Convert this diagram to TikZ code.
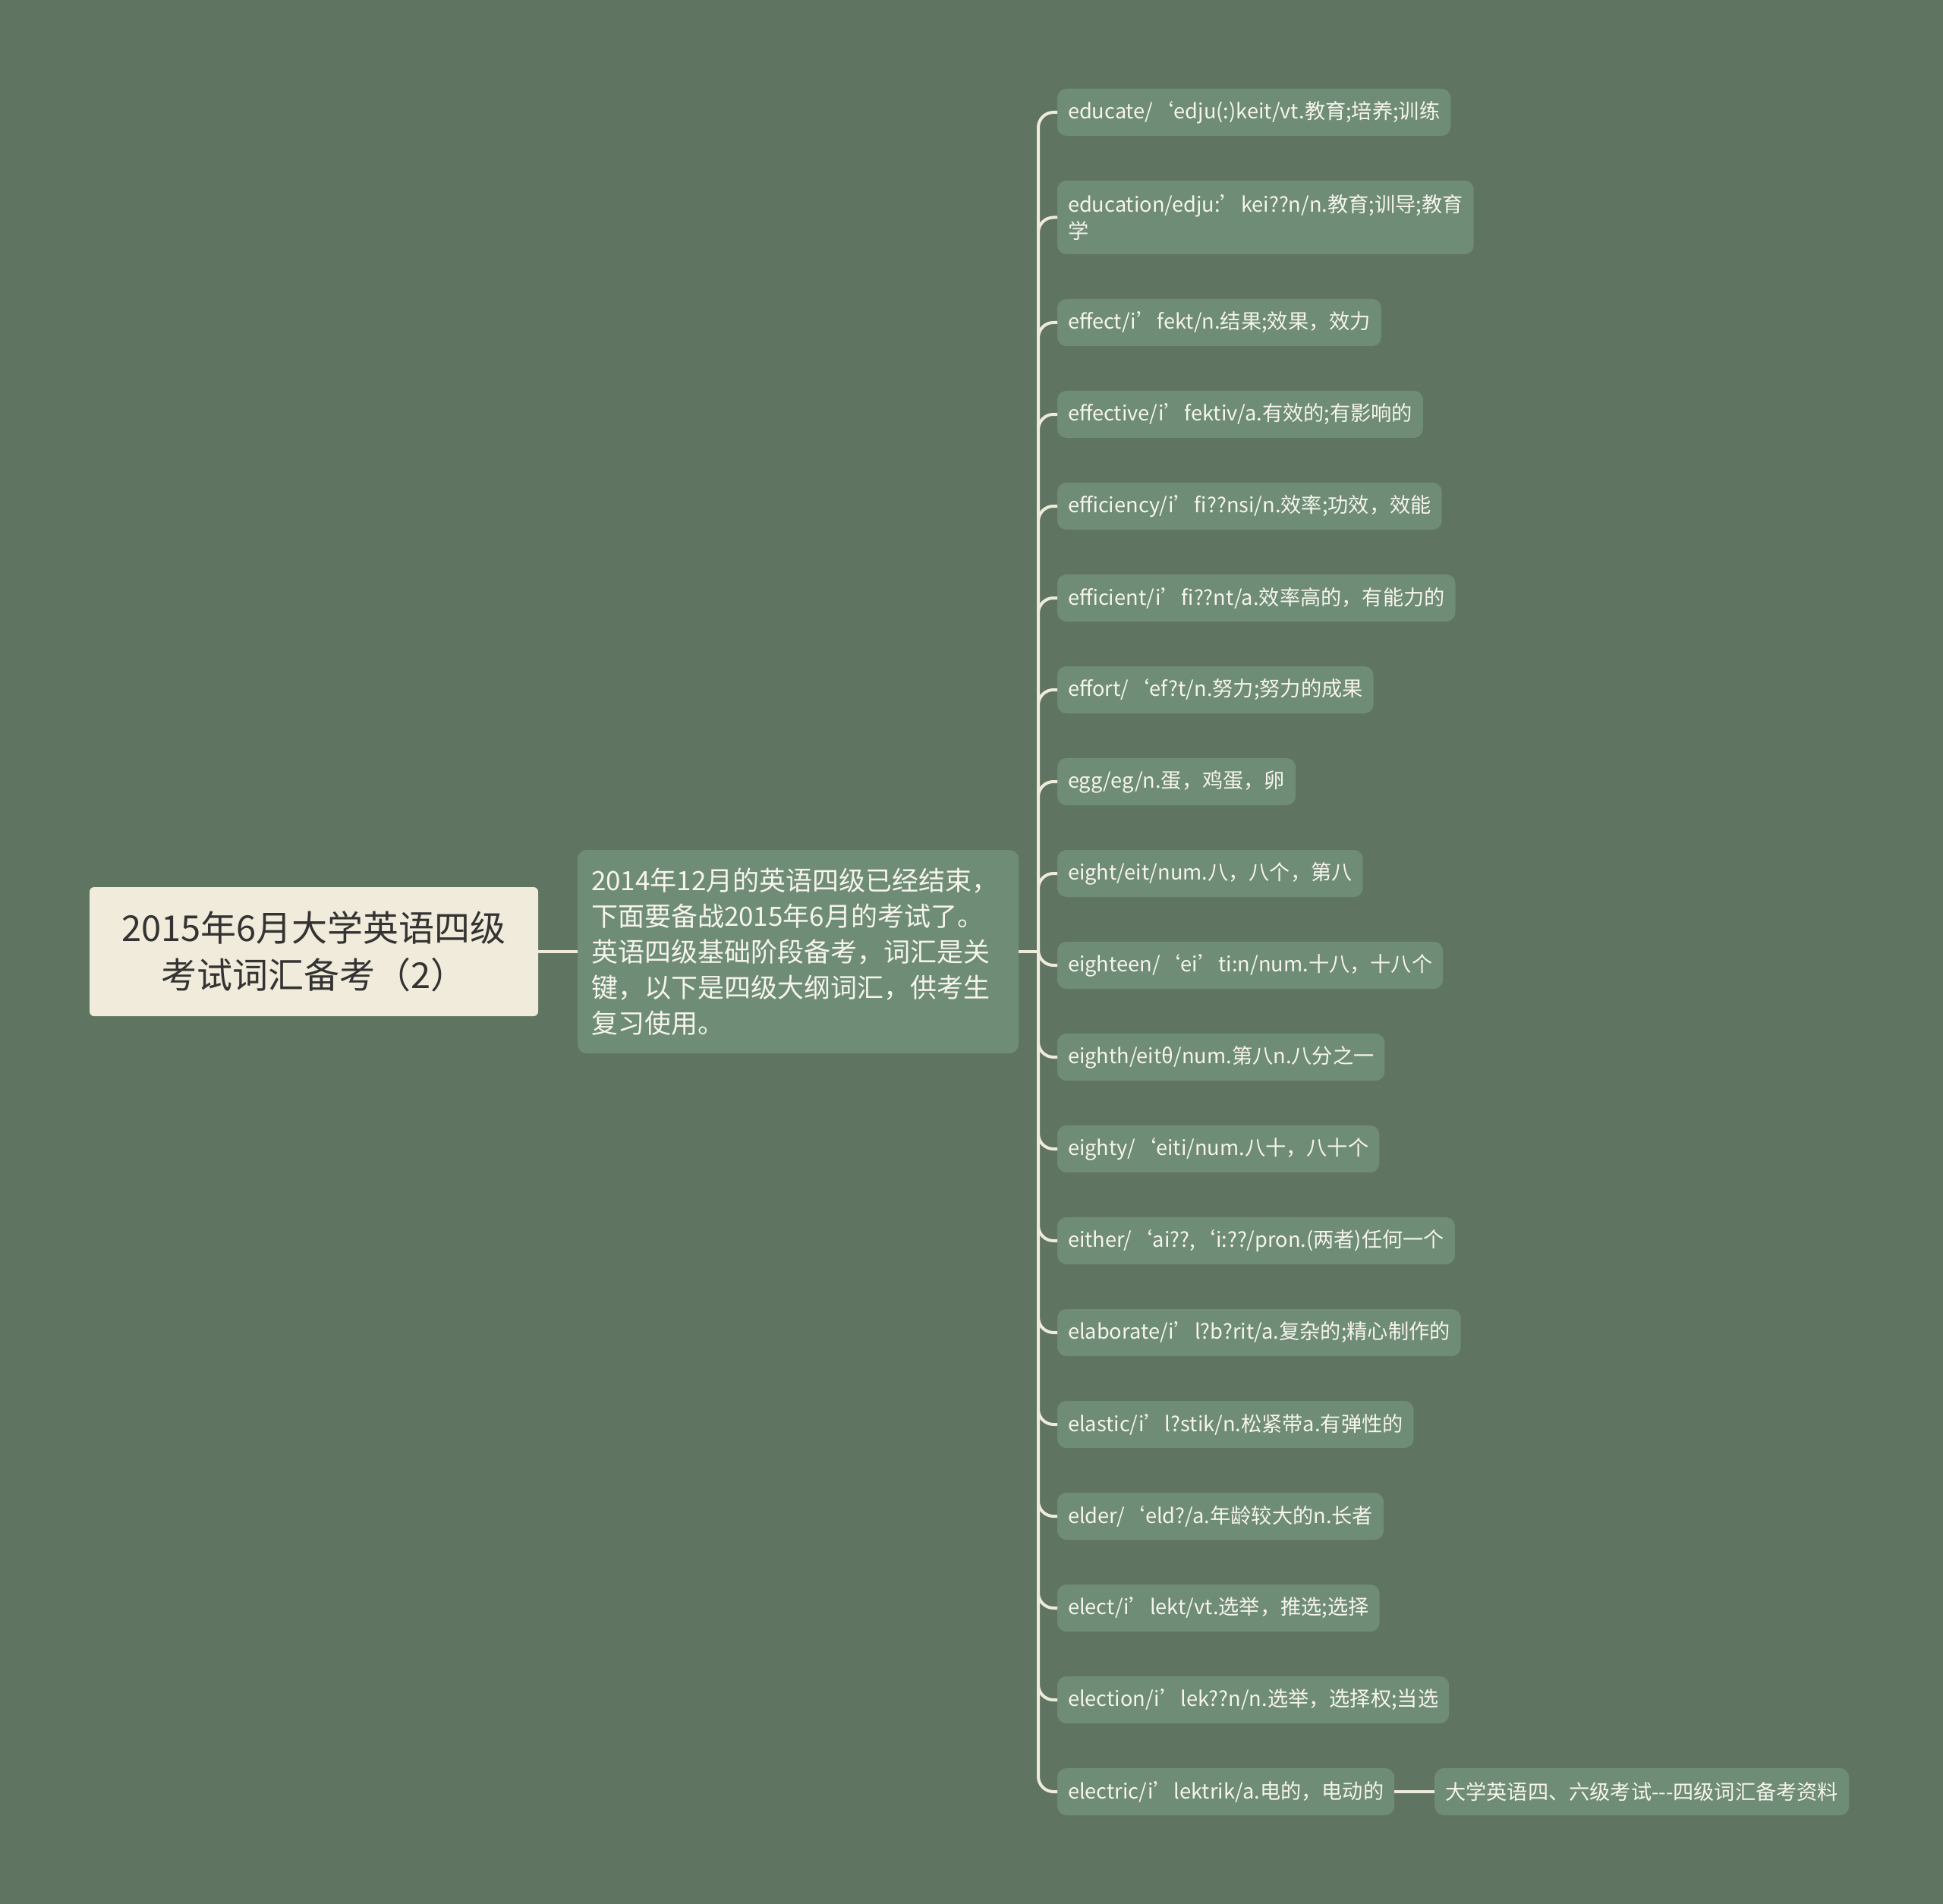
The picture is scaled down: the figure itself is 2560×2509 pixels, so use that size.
\documentclass[tikz,border=0pt]{standalone}
\usepackage{fontspec}
\setmainfont{Noto Sans CJK SC}
\usepackage{tikz}
\usepackage{xcolor}
\usetikzlibrary{positioning}
\definecolor{bgcol}{HTML}{607462}
\definecolor{leafcol}{HTML}{6E8C76}
\definecolor{rootcol}{HTML}{F0EBDA}
\definecolor{linecol}{HTML}{EFEBDA}
\definecolor{textcol}{HTML}{F6F4EC}
\tikzset{
  basic/.style   = {rectangle, inner ysep=0pt, outer sep=0pt},
  root/.style    = {basic, rounded corners=3pt, fill=rootcol, text=black!80,
                   align=center, minimum width=295.5pt, minimum height=85pt,
                   font=\fontsize{23.5pt}{31pt}\selectfont},
  level 2/.style = {basic, rounded corners=6pt, fill=leafcol, text=textcol,
                   align=left, text width=272.5pt, inner xsep=9pt, minimum height=134pt,
                   font=\fontsize{17.5pt}{23.5pt}\selectfont},
  level 3/.style = {basic, rounded corners=6pt, fill=leafcol, text=textcol,
                   align=left, inner xsep=7pt, minimum height=31pt,
                   font=\fontsize{13.6pt}{17.5pt}\selectfont},
  link/.style    = {draw=linecol, line width=2pt, rounded corners=10pt}
}

\begin{document}
\begin{tikzpicture}[x=0.5pt, y=-0.5pt]

\fill[bgcol] (0,0) rectangle (2560,2509);

% root of the map, level 1
\node[root] (root) at (413.5,1254) {2015年6月大学英语四级\\考试词汇备考（2）};
% the summary, level 2
\node[level 2, right=26pt of root] (sum) {2014年12月的英语四级已经结束，\\下面要备战2015年6月的考试了。\\英语四级基础阶段备考，词汇是关\\键，以下是四级大纲词汇，供考生\\复习使用。};
\coordinate (trunk) at ([xshift=13pt]sum.east);
% the words, level 3, stacked one below the other
\node[level 3, anchor=north west] (w1) at (1393,117) {educate/‘edju(:)keit/vt.教育;培养;训练};
\node[level 3, minimum height=48.5pt, below=29.5pt of w1.south west, anchor=north west] (w2) {education/edju:’kei??n/n.教育;训导;教育\\学};
\node[level 3, below=29.5pt of w2.south west, anchor=north west] (w3) {effect/i’fekt/n.结果;效果，效力};
\node[level 3, below=29.5pt of w3.south west, anchor=north west] (w4) {effective/i’fektiv/a.有效的;有影响的};
\node[level 3, below=29.5pt of w4.south west, anchor=north west] (w5) {efficiency/i’fi??nsi/n.效率;功效，效能};
\node[level 3, below=29.5pt of w5.south west, anchor=north west] (w6) {efficient/i’fi??nt/a.效率高的，有能力的};
\node[level 3, below=29.5pt of w6.south west, anchor=north west] (w7) {effort/‘ef?t/n.努力;努力的成果};
\node[level 3, below=29.5pt of w7.south west, anchor=north west] (w8) {egg/eg/n.蛋，鸡蛋，卵};
\node[level 3, below=29.5pt of w8.south west, anchor=north west] (w9) {eight/eit/num.八，八个，第八};
\node[level 3, below=29.5pt of w9.south west, anchor=north west] (w10) {eighteen/‘ei’ti:n/num.十八，十八个};
\node[level 3, below=29.5pt of w10.south west, anchor=north west] (w11) {eighth/eitθ/num.第八n.八分之一};
\node[level 3, below=29.5pt of w11.south west, anchor=north west] (w12) {eighty/‘eiti/num.八十，八十个};
\node[level 3, below=29.5pt of w12.south west, anchor=north west] (w13) {either/‘ai??,‘i:??/pron.(两者)任何一个};
\node[level 3, below=29.5pt of w13.south west, anchor=north west] (w14) {elaborate/i’l?b?rit/a.复杂的;精心制作的};
\node[level 3, below=29.5pt of w14.south west, anchor=north west] (w15) {elastic/i’l?stik/n.松紧带a.有弹性的};
\node[level 3, below=29.5pt of w15.south west, anchor=north west] (w16) {elder/‘eld?/a.年龄较大的n.长者};
\node[level 3, below=29.5pt of w16.south west, anchor=north west] (w17) {elect/i’lekt/vt.选举，推选;选择};
\node[level 3, below=29.5pt of w17.south west, anchor=north west] (w18) {election/i’lek??n/n.选举，选择权;当选};
\node[level 3, below=29.5pt of w18.south west, anchor=north west] (w19) {electric/i’lektrik/a.电的，电动的};
% the note after the last word
\node[level 3, right=26.5pt of w19] (note) {大学英语四、六级考试-{}-{}-四级词汇备考资料};

\draw[link] (root.east) -- (sum.west);
\draw[link] (sum.east) -- (trunk);
\draw[link] (trunk) |- (w1.west) (trunk) |- (w2.west) (trunk) |- (w3.west)
  (trunk) |- (w4.west) (trunk) |- (w5.west) (trunk) |- (w6.west)
  (trunk) |- (w7.west) (trunk) |- (w8.west) (trunk) |- (w9.west)
  (trunk) |- (w10.west) (trunk) |- (w11.west) (trunk) |- (w12.west)
  (trunk) |- (w13.west) (trunk) |- (w14.west) (trunk) |- (w15.west)
  (trunk) |- (w16.west) (trunk) |- (w17.west) (trunk) |- (w18.west)
  (trunk) |- (w19.west);
\draw[link] (w19.east) -- (note.west);
\end{tikzpicture}
\end{document}
